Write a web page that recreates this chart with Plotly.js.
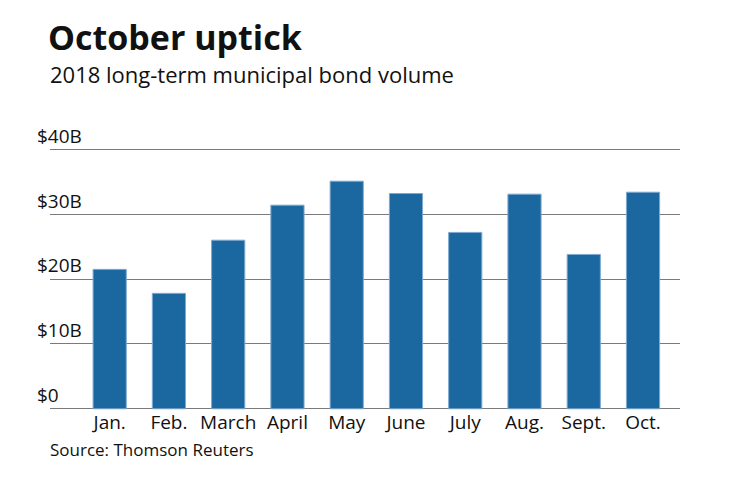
<!DOCTYPE html>
<html>
<head>
<meta charset="utf-8">
<script src="https://cdn.plot.ly/plotly-3.0.1.min.js"></script>
<style>html,body{margin:0;padding:0;background:#fff;}#chart{width:740px;height:482px;}</style>
</head>
<body>
<div id="chart"></div>
<script>
const months = ["Jan.", "Feb.", "March", "April", "May", "June", "July", "Aug.", "Sept.", "Oct."];
const volumeBillions = [21.5, 17.8, 26.0, 31.4, 35.1, 33.2, 27.2, 33.1, 23.8, 33.4];
const yTickValues = [0, 10, 20, 30, 40];
const yTickLabels = ["$0", "$10B", "$20B", "$30B", "$40B"];

const FONT = "'Open Sans', 'Noto Sans', sans-serif";
// y scale: 6.5 px per $1B, range [-0.5, 45] -> plot top 116.5, bottom 412.25
const PT = 116.5, PB = 412.25, PH = PB - PT;

const trace = {
  type: "bar",
  x: months.map((m, i) => i),
  y: volumeBillions,
  marker: {color: "#1b67a0", line: {color: "#7eaad0", width: 1}},
  hoverinfo: "skip"
};

const layout = {
  width: 740, height: 482,
  margin: {l: 50, r: 60, t: PT, b: 482 - PB},
  paper_bgcolor: "#fff", plot_bgcolor: "#fff",
  bargap: 0.44,
  showlegend: false,
  font: {family: FONT, color: "#111"},
  title: {
    text: "<b>October uptick</b>",
    font: {family: FONT, size: 34, color: "#111"},
    xref: "container", x: 48/740, xanchor: "left",
    yref: "container", y: 1 - 26/482, yanchor: "top"
  },
  xaxis: {
    range: [-1.007, 9.624],
    tickmode: "array",
    tickvals: months.map((m, i) => i),
    ticktext: months,
    tickfont: {family: FONT, size: 19, color: "#111"},
    ticklabelstandoff: -3,
    showgrid: false, zeroline: false, showline: false, ticks: "",
    fixedrange: true
  },
  yaxis: {
    range: [-0.5, 45],
    tickmode: "array",
    tickvals: yTickValues,
    ticktext: yTickLabels,
    tickfont: {family: FONT, size: 19, color: "#111"},
    ticklabelposition: "inside top",
    ticklabelstandoff: -16,
    ticklabelshift: 0,
    showgrid: true, gridcolor: "#7a7a7a", gridwidth: 1,
    zeroline: true, zerolinecolor: "#7a7a7a", zerolinewidth: 1,
    showline: false, ticks: "",
    fixedrange: true
  },
  annotations: [
    {text: "2018 long-term municipal bond volume", xref: "paper", yref: "paper",
     x: 0, xanchor: "left", y: 1 - (56 - PT) / PH, yanchor: "top", showarrow: false,
     xshift: -2,
     font: {family: FONT, size: 22, color: "#111"}},
    {text: "Source: Thomson Reuters", xref: "paper", yref: "paper",
     x: 0, xanchor: "left", y: -(436 - PB) / PH, yanchor: "top", showarrow: false,
     xshift: -2,
     font: {family: FONT, size: 17, color: "#111"}}
  ]
};

Plotly.newPlot("chart", [trace], layout, {displayModeBar: false, staticPlot: true});
</script>
</body>
</html>
